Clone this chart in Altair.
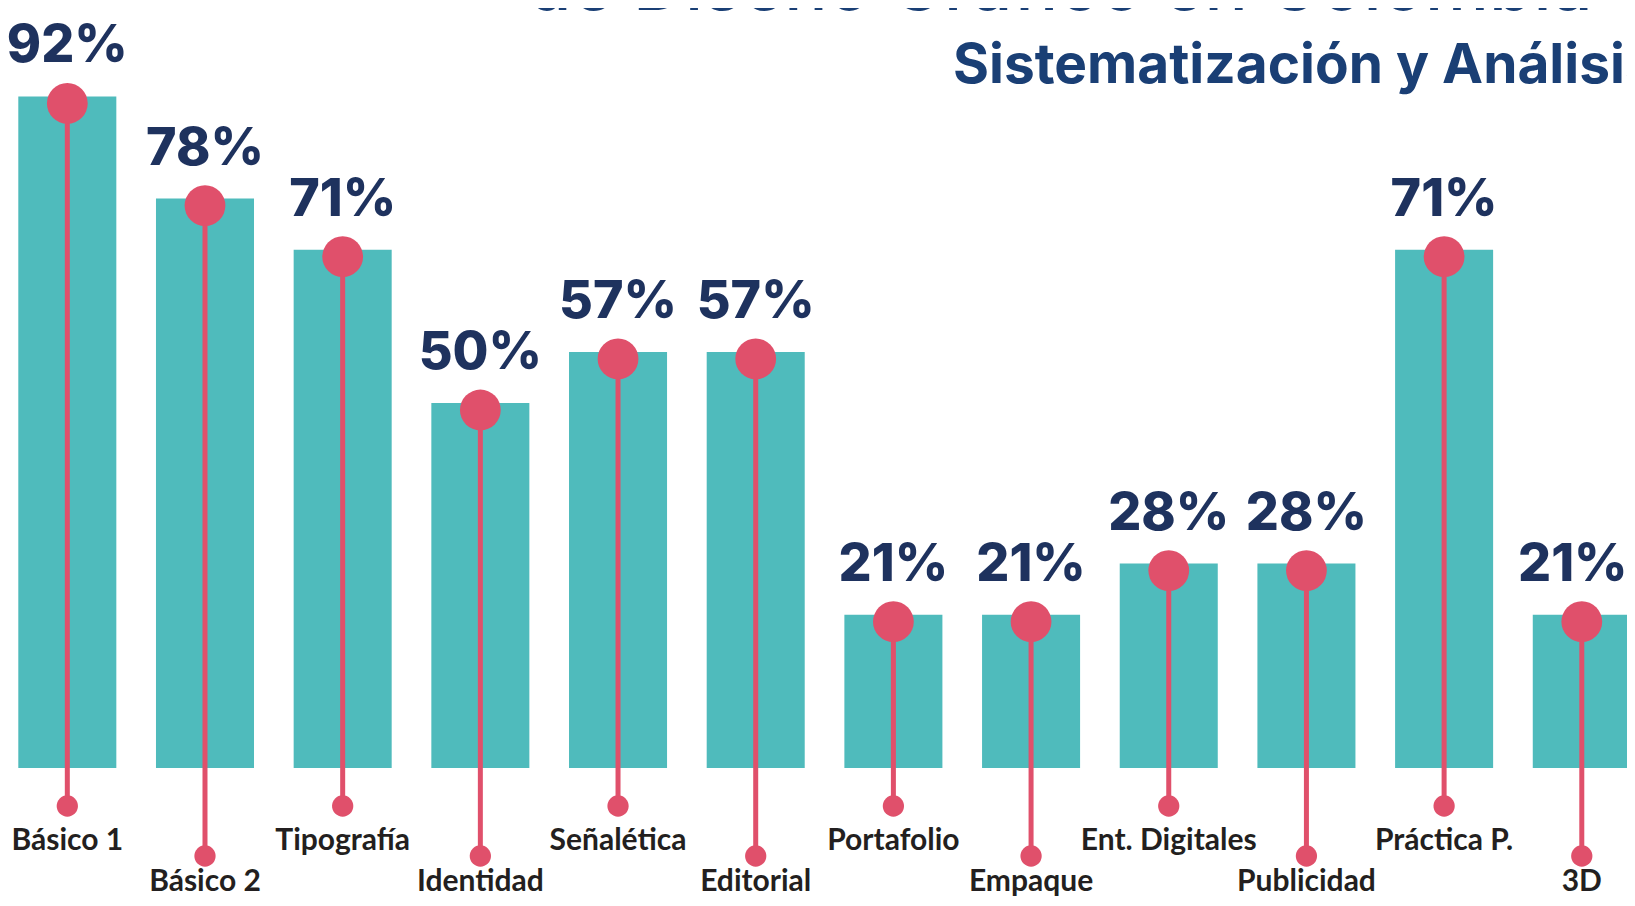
import altair as alt
import pandas as pd

# ---- data ----
categorias = ["Básico 1", "Básico 2", "Tipografía", "Identidad", "Señalética", "Editorial",
              "Portafolio", "Empaque", "Ent. Digitales", "Publicidad", "Práctica P.", "3D"]
porcentajes = [92, 78, 71, 50, 57, 57, 21, 21, 28, 28, 71, 21]

titulo_superior = "de Diseño Gráfico en Colombia"
subtitulo = "Sistematización y Análisis"

df = pd.DataFrame({"categoria": categorias, "valor": porcentajes})

TEAL = "#4fbbbc"
PINK = "#e0506b"
NAVY = "#1e325e"
TITLE = "#1a3f75"
LABEL = "#231f20"

W, H = 1619, 890

x = alt.X("categoria:N", sort=categorias, axis=None,
          scale=alt.Scale(range=[10.3, 1622.8], paddingInner=0.288, paddingOuter=0))
y = alt.Y("valor:Q", axis=None, scale=alt.Scale(domain=[0, 100], range=[760, 30]))

base = (alt.Chart(df)
        .transform_window(idx="row_number()")
        .transform_calculate(fila="(datum.idx - 1) % 2", lbl="datum.valor + '%'"))

bars = base.mark_bar(color=TEAL).encode(x=x, y=y)

stem0 = base.transform_filter("datum.fila == 0").mark_rule(color=PINK, strokeWidth=5).encode(
    x=x, y=y, y2=alt.value(798))
stem1 = base.transform_filter("datum.fila == 1").mark_rule(color=PINK, strokeWidth=5).encode(
    x=x, y=y, y2=alt.value(848))

dot0 = base.transform_filter("datum.fila == 0").mark_circle(color=PINK, size=452, opacity=1).encode(
    x=x, y=alt.value(798))
dot1 = base.transform_filter("datum.fila == 1").mark_circle(color=PINK, size=452, opacity=1).encode(
    x=x, y=alt.value(848))

big = base.mark_circle(color=PINK, size=1662, opacity=1, yOffset=7).encode(x=x, y=y)

pct_style = dict(font="Inter", fontWeight=800, fontSize=52, color=NAVY,
                 baseline="middle", align="center", yOffset=-50)
pct = base.transform_filter("datum.idx < 12").mark_text(**pct_style).encode(
    x=x, y=y, text="lbl:N")
pct_last = base.transform_filter("datum.idx == 12").mark_text(dx=-9, **pct_style).encode(
    x=x, y=y, text="lbl:N")

lab_style = dict(font="Lato", fontWeight="bold", fontSize=30, color=LABEL,
                 baseline="alphabetic", align="center")
lab0 = base.transform_filter("datum.fila == 0").mark_text(**lab_style).encode(
    x=x, y=alt.value(842), text="categoria:N")
lab1 = base.transform_filter("datum.fila == 1").mark_text(**lab_style).encode(
    x=x, y=alt.value(883), text="categoria:N")

t_df = pd.DataFrame({"t": [titulo_superior]})
s_df = pd.DataFrame({"t": [subtitulo]})

top_title = alt.Chart(t_df).mark_text(font="Inter", fontWeight=500, fontSize=72, color=TITLE,
                                      align="left", baseline="alphabetic").encode(
    x=alt.value(519), y=alt.value(2), text="t:N")
sub_title = alt.Chart(s_df).mark_text(font="Inter", fontWeight="bold", fontSize=55, color=TITLE,
                                      align="left", baseline="alphabetic").encode(
    x=alt.value(945), y=alt.value(75), text="t:N")

chart = (alt.layer(bars, stem0, stem1, dot0, dot1, big, pct, pct_last, lab0, lab1, top_title, sub_title)
         .properties(width=W, height=H, padding=0, autosize=alt.AutoSizeParams(type="none"),
                     background="white")
         .configure_view(strokeWidth=0))

chart.save("out.html", embed_options={"renderer": "svg", "actions": False})
